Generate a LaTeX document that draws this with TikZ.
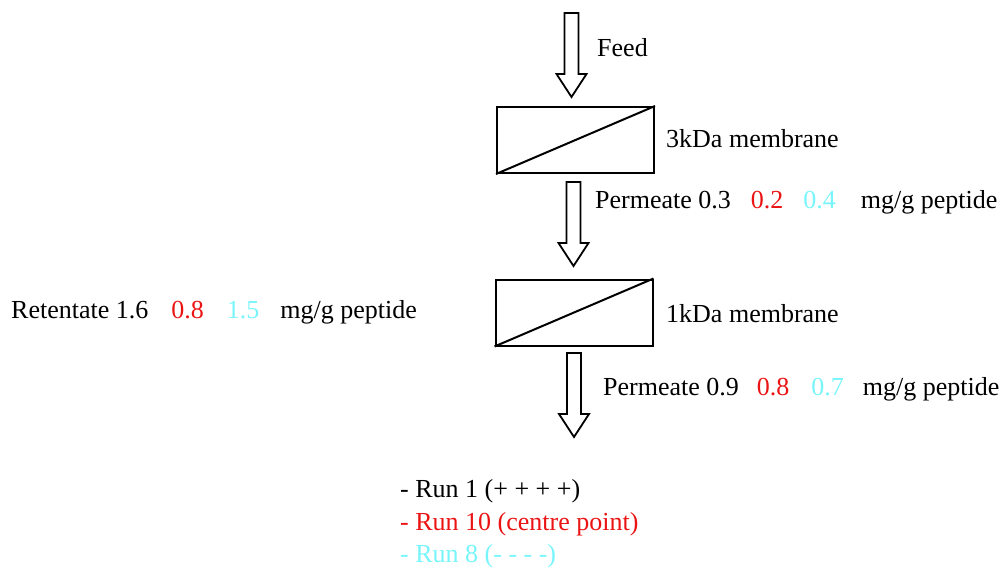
\documentclass[tikz,border=0pt]{standalone}
\usepackage{fontspec}
\setmainfont{Liberation Serif}
\definecolor{runred}{RGB}{235,20,20}
\definecolor{runcyan}{RGB}{120,245,250}
\begin{document}
\begin{tikzpicture}[x=1pt,y=-1pt,
  membrane/.style={draw,line width=2pt,minimum width=157pt,minimum height=66pt,inner sep=0pt},
  lbl/.style={anchor=base west,inner sep=0pt,font=\fontsize{26}{30}\selectfont},
  blockarrow/.pic={\draw[line width=1.8pt,line join=miter] (-7,0) -- (7,0) -- (7,61) -- (15,61) -- (0,84) -- (-15,61) -- (-7,61) -- cycle;}
]
\useasboundingbox (0,0) rectangle (1008,567);
% membranes
\node[membrane] (m1) at (575.5,140) {};
\node[membrane] (m2) at (574,312.5) {};
\draw[line width=2pt] (m1.south west) -- (m1.north east);
\draw[line width=2pt] (m2.south west) -- (m2.north east);
% block arrows
\pic (a1) at (571.5,13) {blockarrow};
\pic (a2) at (573.5,182) {blockarrow};
\pic (a3) at (574,353) {blockarrow};
% labels
\node[lbl] (feed) at (597,57) {Feed};
\node[lbl] (l3k) at (666,147) {3kDa membrane};
\node[lbl] (p1) at (595,208) {Permeate 0.3\hspace{20pt}\textcolor{runred}{0.2}\hspace{20pt}\textcolor{runcyan}{0.4}\hspace{25pt}mg/g peptide};
\node[lbl] (l1k) at (666,322) {1kDa membrane};
\node[lbl] (ret) at (11,318) {Retentate 1.6\hspace{23pt}\textcolor{runred}{0.8}\hspace{23pt}\textcolor{runcyan}{1.5}\hspace{21pt}mg/g peptide};
\node[lbl] (p2) at (603,395) {Permeate 0.9\hspace{18pt}\textcolor{runred}{0.8}\hspace{22pt}\textcolor{runcyan}{0.7}\hspace{19pt}mg/g peptide};
\node[lbl] (r1) at (400,497) {- Run 1 (+ + + +)};
\node[lbl,text=runred] (r10) at (400,530) {- Run 10 (centre point)};
\node[lbl,text=runcyan] (r8) at (400,562) {- Run 8 (- - - -)};
\end{tikzpicture}
\end{document}
